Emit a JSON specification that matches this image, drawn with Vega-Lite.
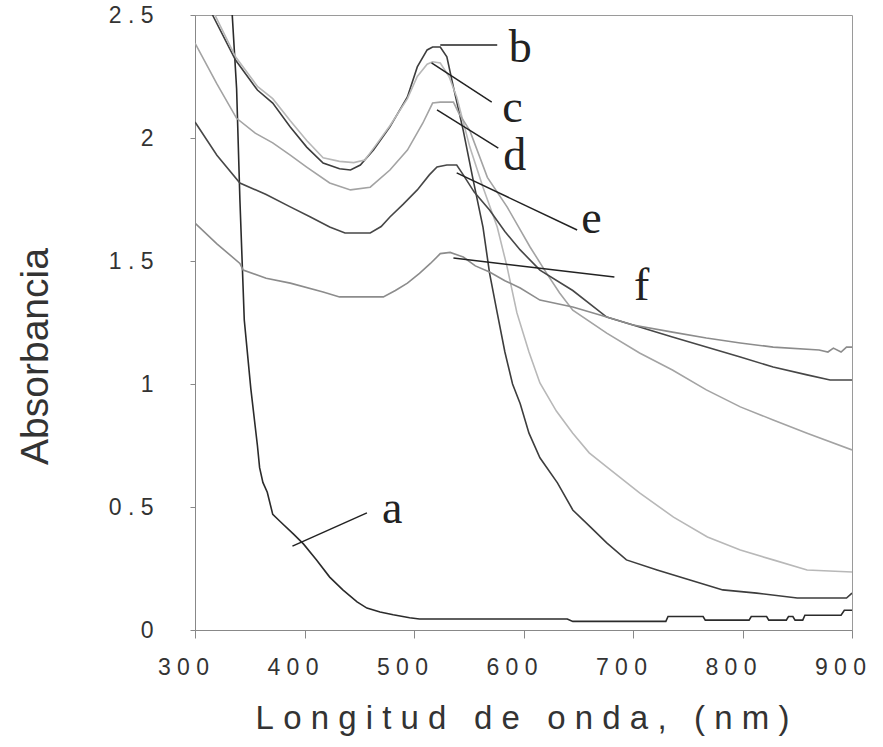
{
  "$schema": "https://vega.github.io/schema/vega-lite/v6.json",
  "width": 657,
  "height": 615,
  "autosize": {"type": "none"},
  "padding": {"left": 195, "top": 15, "right": 31, "bottom": 117},
  "background": "white",
  "config": {
    "font": "Liberation Sans",
    "view": {"stroke": "#9a9a9a", "strokeWidth": 1}
  },
  "datasets": {
    "curves": [
      {"s": "a", "x": 333, "y": 2.6}, {"s": "a", "x": 334, "y": 2.5}, {"s": "a", "x": 338, "y": 2.2}, {"s": "a", "x": 341, "y": 1.75}, {"s": "a", "x": 345, "y": 1.26}, {"s": "a", "x": 351, "y": 0.98}, {"s": "a", "x": 357, "y": 0.75}, {"s": "a", "x": 359, "y": 0.66}, {"s": "a", "x": 362, "y": 0.6}, {"s": "a", "x": 366, "y": 0.56}, {"s": "a", "x": 371, "y": 0.47}, {"s": "a", "x": 378, "y": 0.44}, {"s": "a", "x": 390, "y": 0.39}, {"s": "a", "x": 399, "y": 0.35}, {"s": "a", "x": 411, "y": 0.285}, {"s": "a", "x": 423, "y": 0.215}, {"s": "a", "x": 435, "y": 0.163}, {"s": "a", "x": 448, "y": 0.114}, {"s": "a", "x": 457, "y": 0.089}, {"s": "a", "x": 469, "y": 0.073}, {"s": "a", "x": 481, "y": 0.062}, {"s": "a", "x": 496, "y": 0.05}, {"s": "a", "x": 505, "y": 0.045}, {"s": "a", "x": 640, "y": 0.045}, {"s": "a", "x": 645, "y": 0.035}, {"s": "a", "x": 730, "y": 0.035}, {"s": "a", "x": 732, "y": 0.055}, {"s": "a", "x": 764, "y": 0.055}, {"s": "a", "x": 766, "y": 0.04}, {"s": "a", "x": 806, "y": 0.04}, {"s": "a", "x": 808, "y": 0.055}, {"s": "a", "x": 822, "y": 0.055}, {"s": "a", "x": 824, "y": 0.04}, {"s": "a", "x": 840, "y": 0.04}, {"s": "a", "x": 842, "y": 0.055}, {"s": "a", "x": 846, "y": 0.055}, {"s": "a", "x": 848, "y": 0.04}, {"s": "a", "x": 855, "y": 0.04}, {"s": "a", "x": 857, "y": 0.06}, {"s": "a", "x": 890, "y": 0.06}, {"s": "a", "x": 893, "y": 0.08}, {"s": "a", "x": 900, "y": 0.08},

      {"s": "b", "x": 300, "y": 2.65}, {"s": "b", "x": 316, "y": 2.5}, {"s": "b", "x": 337, "y": 2.317}, {"s": "b", "x": 357, "y": 2.195}, {"s": "b", "x": 371, "y": 2.142}, {"s": "b", "x": 387, "y": 2.045}, {"s": "b", "x": 402, "y": 1.963}, {"s": "b", "x": 417, "y": 1.898}, {"s": "b", "x": 432, "y": 1.875}, {"s": "b", "x": 442, "y": 1.87}, {"s": "b", "x": 451, "y": 1.89}, {"s": "b", "x": 463, "y": 1.951}, {"s": "b", "x": 478, "y": 2.045}, {"s": "b", "x": 494, "y": 2.167}, {"s": "b", "x": 503, "y": 2.289}, {"s": "b", "x": 512, "y": 2.358}, {"s": "b", "x": 517, "y": 2.37}, {"s": "b", "x": 524, "y": 2.37}, {"s": "b", "x": 530, "y": 2.33}, {"s": "b", "x": 536, "y": 2.207}, {"s": "b", "x": 545, "y": 2.03}, {"s": "b", "x": 554, "y": 1.83}, {"s": "b", "x": 563, "y": 1.638}, {"s": "b", "x": 569, "y": 1.451}, {"s": "b", "x": 576, "y": 1.289}, {"s": "b", "x": 583, "y": 1.13}, {"s": "b", "x": 590, "y": 1.0}, {"s": "b", "x": 597, "y": 0.92}, {"s": "b", "x": 605, "y": 0.8}, {"s": "b", "x": 615, "y": 0.7}, {"s": "b", "x": 631, "y": 0.598}, {"s": "b", "x": 645, "y": 0.488}, {"s": "b", "x": 661, "y": 0.419}, {"s": "b", "x": 676, "y": 0.354}, {"s": "b", "x": 694, "y": 0.285}, {"s": "b", "x": 722, "y": 0.244}, {"s": "b", "x": 752, "y": 0.203}, {"s": "b", "x": 782, "y": 0.163}, {"s": "b", "x": 813, "y": 0.15}, {"s": "b", "x": 850, "y": 0.13}, {"s": "b", "x": 895, "y": 0.13}, {"s": "b", "x": 900, "y": 0.15},

      {"s": "c", "x": 300, "y": 2.66}, {"s": "c", "x": 316, "y": 2.52}, {"s": "c", "x": 337, "y": 2.33}, {"s": "c", "x": 357, "y": 2.21}, {"s": "c", "x": 371, "y": 2.16}, {"s": "c", "x": 387, "y": 2.07}, {"s": "c", "x": 402, "y": 1.99}, {"s": "c", "x": 417, "y": 1.92}, {"s": "c", "x": 432, "y": 1.905}, {"s": "c", "x": 445, "y": 1.9}, {"s": "c", "x": 455, "y": 1.91}, {"s": "c", "x": 465, "y": 1.97}, {"s": "c", "x": 478, "y": 2.05}, {"s": "c", "x": 494, "y": 2.16}, {"s": "c", "x": 503, "y": 2.25}, {"s": "c", "x": 512, "y": 2.3}, {"s": "c", "x": 517, "y": 2.31}, {"s": "c", "x": 524, "y": 2.305}, {"s": "c", "x": 532, "y": 2.25}, {"s": "c", "x": 539, "y": 2.167}, {"s": "c", "x": 551, "y": 1.963}, {"s": "c", "x": 563, "y": 1.8}, {"s": "c", "x": 576, "y": 1.638}, {"s": "c", "x": 585, "y": 1.476}, {"s": "c", "x": 594, "y": 1.289}, {"s": "c", "x": 605, "y": 1.13}, {"s": "c", "x": 615, "y": 1.004}, {"s": "c", "x": 630, "y": 0.89}, {"s": "c", "x": 645, "y": 0.8}, {"s": "c", "x": 660, "y": 0.72}, {"s": "c", "x": 676, "y": 0.663}, {"s": "c", "x": 706, "y": 0.557}, {"s": "c", "x": 737, "y": 0.459}, {"s": "c", "x": 768, "y": 0.378}, {"s": "c", "x": 798, "y": 0.325}, {"s": "c", "x": 828, "y": 0.285}, {"s": "c", "x": 859, "y": 0.244}, {"s": "c", "x": 900, "y": 0.236},

      {"s": "d", "x": 300, "y": 2.386}, {"s": "d", "x": 320, "y": 2.22}, {"s": "d", "x": 338, "y": 2.08}, {"s": "d", "x": 355, "y": 2.02}, {"s": "d", "x": 371, "y": 1.98}, {"s": "d", "x": 387, "y": 1.93}, {"s": "d", "x": 402, "y": 1.882}, {"s": "d", "x": 423, "y": 1.817}, {"s": "d", "x": 442, "y": 1.789}, {"s": "d", "x": 460, "y": 1.8}, {"s": "d", "x": 478, "y": 1.87}, {"s": "d", "x": 494, "y": 1.951}, {"s": "d", "x": 508, "y": 2.06}, {"s": "d", "x": 517, "y": 2.142}, {"s": "d", "x": 524, "y": 2.146}, {"s": "d", "x": 536, "y": 2.146}, {"s": "d", "x": 541, "y": 2.1}, {"s": "d", "x": 551, "y": 2.03}, {"s": "d", "x": 567, "y": 1.84}, {"s": "d", "x": 585, "y": 1.72}, {"s": "d", "x": 606, "y": 1.557}, {"s": "d", "x": 621, "y": 1.451}, {"s": "d", "x": 633, "y": 1.37}, {"s": "d", "x": 645, "y": 1.3}, {"s": "d", "x": 676, "y": 1.207}, {"s": "d", "x": 706, "y": 1.126}, {"s": "d", "x": 736, "y": 1.057}, {"s": "d", "x": 767, "y": 0.976}, {"s": "d", "x": 798, "y": 0.907}, {"s": "d", "x": 828, "y": 0.854}, {"s": "d", "x": 859, "y": 0.8}, {"s": "d", "x": 900, "y": 0.732},

      {"s": "e", "x": 300, "y": 2.065}, {"s": "e", "x": 320, "y": 1.93}, {"s": "e", "x": 341, "y": 1.817}, {"s": "e", "x": 365, "y": 1.77}, {"s": "e", "x": 387, "y": 1.72}, {"s": "e", "x": 405, "y": 1.68}, {"s": "e", "x": 423, "y": 1.638}, {"s": "e", "x": 437, "y": 1.614}, {"s": "e", "x": 460, "y": 1.614}, {"s": "e", "x": 470, "y": 1.64}, {"s": "e", "x": 478, "y": 1.679}, {"s": "e", "x": 490, "y": 1.73}, {"s": "e", "x": 503, "y": 1.789}, {"s": "e", "x": 514, "y": 1.85}, {"s": "e", "x": 521, "y": 1.882}, {"s": "e", "x": 530, "y": 1.89}, {"s": "e", "x": 539, "y": 1.89}, {"s": "e", "x": 545, "y": 1.85}, {"s": "e", "x": 555, "y": 1.78}, {"s": "e", "x": 569, "y": 1.707}, {"s": "e", "x": 583, "y": 1.62}, {"s": "e", "x": 597, "y": 1.545}, {"s": "e", "x": 615, "y": 1.463}, {"s": "e", "x": 645, "y": 1.38}, {"s": "e", "x": 676, "y": 1.272}, {"s": "e", "x": 700, "y": 1.24}, {"s": "e", "x": 736, "y": 1.191}, {"s": "e", "x": 767, "y": 1.15}, {"s": "e", "x": 798, "y": 1.11}, {"s": "e", "x": 828, "y": 1.069}, {"s": "e", "x": 859, "y": 1.037}, {"s": "e", "x": 880, "y": 1.016}, {"s": "e", "x": 900, "y": 1.016},

      {"s": "f", "x": 300, "y": 1.654}, {"s": "f", "x": 320, "y": 1.57}, {"s": "f", "x": 341, "y": 1.49}, {"s": "f", "x": 344, "y": 1.463}, {"s": "f", "x": 365, "y": 1.43}, {"s": "f", "x": 387, "y": 1.41}, {"s": "f", "x": 417, "y": 1.374}, {"s": "f", "x": 432, "y": 1.354}, {"s": "f", "x": 472, "y": 1.354}, {"s": "f", "x": 483, "y": 1.38}, {"s": "f", "x": 494, "y": 1.41}, {"s": "f", "x": 505, "y": 1.45}, {"s": "f", "x": 515, "y": 1.49}, {"s": "f", "x": 524, "y": 1.53}, {"s": "f", "x": 533, "y": 1.535}, {"s": "f", "x": 545, "y": 1.516}, {"s": "f", "x": 556, "y": 1.48}, {"s": "f", "x": 569, "y": 1.455}, {"s": "f", "x": 583, "y": 1.42}, {"s": "f", "x": 597, "y": 1.39}, {"s": "f", "x": 615, "y": 1.341}, {"s": "f", "x": 645, "y": 1.313}, {"s": "f", "x": 676, "y": 1.272}, {"s": "f", "x": 700, "y": 1.24}, {"s": "f", "x": 736, "y": 1.211}, {"s": "f", "x": 767, "y": 1.187}, {"s": "f", "x": 798, "y": 1.167}, {"s": "f", "x": 828, "y": 1.15}, {"s": "f", "x": 870, "y": 1.138}, {"s": "f", "x": 878, "y": 1.13}, {"s": "f", "x": 883, "y": 1.146}, {"s": "f", "x": 890, "y": 1.13}, {"s": "f", "x": 895, "y": 1.15}, {"s": "f", "x": 900, "y": 1.15}
    ],
    "leaders": [
      {"s": "a", "x": 389, "y": 0.341, "x2": 457, "y2": 0.476},
      {"s": "b", "x": 524, "y": 2.378, "x2": 576, "y2": 2.378},
      {"s": "c", "x": 516, "y": 2.305, "x2": 571, "y2": 2.146},
      {"s": "d", "x": 521, "y": 2.114, "x2": 577, "y2": 1.959},
      {"s": "e", "x": 539, "y": 1.858, "x2": 649, "y2": 1.626},
      {"s": "f", "x": 536, "y": 1.512, "x2": 683, "y2": 1.435}
    ],
    "labels": [
      {"t": "a", "x": 480, "y": 0.435},
      {"t": "b", "x": 597, "y": 2.309},
      {"t": "c", "x": 590, "y": 2.066},
      {"t": "d", "x": 592, "y": 1.87},
      {"t": "e", "x": 662, "y": 1.614},
      {"t": "f", "x": 708, "y": 1.341}
    ]
  },
  "encoding": {
    "x": {
      "field": "x",
      "type": "quantitative",
      "scale": {"domain": [300, 900], "nice": false, "zero": false},
      "axis": {
        "values": [300, 400, 500, 600, 700, 800, 900],
        "title": "L\u00a0o\u00a0n\u00a0g\u00a0i\u00a0t\u00a0u\u00a0d\u00a0\u00a0\u00a0d\u00a0e\u00a0\u00a0\u00a0o\u00a0n\u00a0d\u00a0a\u00a0,\u00a0\u00a0\u00a0(\u00a0n\u00a0m\u00a0)",
        "titleFont": "Liberation Sans",
        "titleFontSize": 33,
        "titleFontWeight": "normal",
        "titleColor": "#333333",
        "titleX": 327,
        "titleY": 88,
        "titleAlign": "center",
        "titleBaseline": "middle",
        "labelExpr": "join(split(format(datum.value, 'd'), ''), '\u00a0')",
        "labelFontSize": 23,
        "labelColor": "#333333",
        "labelFlush": false,
        "labelOverlap": false,
        "labelBaseline": "middle",
        "labelPadding": 29,
        "labelOffset": -12,
        "tickSize": 8,
        "tickColor": "#888888",
        "domainColor": "#888888",
        "grid": false
      }
    },
    "y": {
      "field": "y",
      "type": "quantitative",
      "scale": {"domain": [0, 2.5], "nice": false},
      "axis": {
        "values": [0, 0.5, 1, 1.5, 2, 2.5],
        "title": "Absorbancia",
        "titleFont": "Liberation Sans",
        "titleFontSize": 39,
        "titleFontWeight": "normal",
        "titleColor": "#333333",
        "titleAngle": -90,
        "titleX": -160,
        "titleY": 341,
        "titleAlign": "center",
        "titleBaseline": "middle",
        "labelExpr": "join(split(format(datum.value, '~g'), ''), '\u00a0')",
        "labelFontSize": 23,
        "labelColor": "#333333",
        "labelFlush": false,
        "labelOverlap": false,
        "labelPadding": 37,
        "tickSize": 5,
        "tickColor": "#888888",
        "domainColor": "#888888",
        "grid": false
      }
    }
  },
  "layer": [
    {
      "data": {"name": "curves"},
      "mark": {"type": "line", "clip": true, "strokeWidth": 1.6},
      "encoding": {
        "color": {
          "field": "s",
          "type": "nominal",
          "scale": {"domain": ["a", "b", "c", "d", "e", "f"], "range": ["#2b2b2b", "#3d3d3d", "#b8b8b8", "#a3a3a3", "#474747", "#8c8c8c"]},
          "legend": null
        }
      }
    },
    {
      "data": {"name": "leaders"},
      "mark": {"type": "rule", "color": "#222222", "strokeWidth": 1.5},
      "encoding": {
        "x2": {"field": "x2"},
        "y2": {"field": "y2"}
      }
    },
    {
      "data": {"name": "labels"},
      "mark": {"type": "text", "font": "Liberation Serif", "fontSize": 46, "align": "center", "baseline": "alphabetic", "color": "#222222"},
      "encoding": {
        "text": {"field": "t"}
      }
    }
  ]
}
